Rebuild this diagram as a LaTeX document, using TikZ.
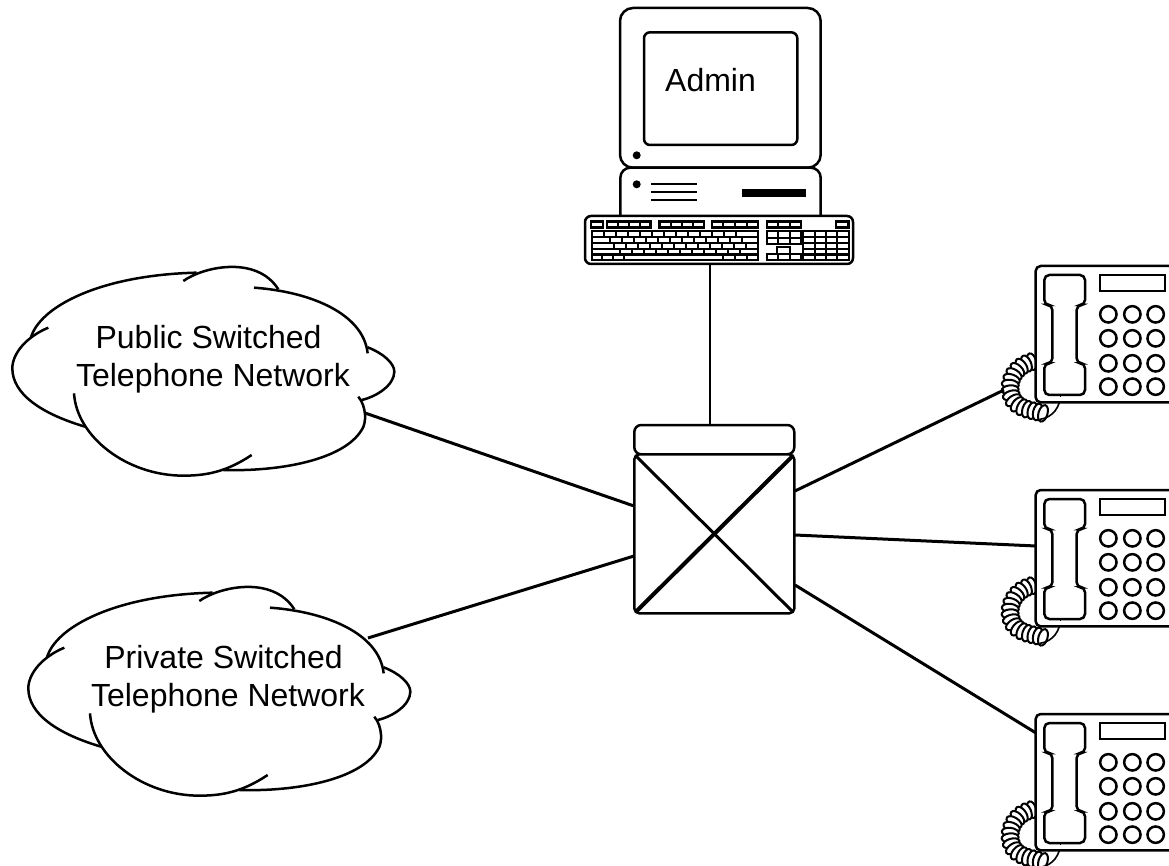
\documentclass[tikz,border=0pt]{standalone}
\usepackage{fontspec}
\setmainfont{Liberation Sans}
\usetikzlibrary{decorations.markings}
\newcommand\keyrow[4]{\foreach \kb [remember=\kb as \ka (initially #3)] in {#4} {\draw[keyst] (\ka,#1) rectangle (\kb,#2);}}
\tikzset{
  x=1pt,y=-1pt,
  line join=round,
  thin line/.style={draw=black,line width=2.5pt},
  link/.style={draw=black,line width=3pt},
  keyst/.style={draw=black,fill=white,line width=2.1pt},
  label text/.style={font=\fontsize{32}{38.3}\selectfont,align=center,inner sep=0pt},
  box/.style={draw=black,fill=white,line width=2.5pt,inner sep=0pt,outer sep=0pt},
  cloudshape/.pic={
    \begin{scope}[x=0.33333pt,y=-0.33333pt]
      \draw[thin line] (255,530) .. controls (120,490) and (37,430) .. (37,355) .. controls (37,310) and (80,260) .. (145,233);
      \draw[thin line] (93,262) .. controls (120,170) and (300,75) .. (590,68);
      \draw[thin line] (550,93) .. controls (610,50) and (770,15) .. (835,118);
      \draw[thin line] (762,113) .. controls (930,125) and (1090,190) .. (1103,310);
      \draw[thin line] (1103,292) .. controls (1150,310) and (1183,340) .. (1183,365) .. controls (1183,405) and (1130,440) .. (1085,450);
      \draw[thin line] (1075,440) .. controls (1100,470) and (1100,520) .. (1085,540) .. controls (1030,630) and (840,665) .. (670,660);
      \draw[thin line] (755,615) .. controls (680,665) and (620,677) .. (550,677) .. controls (380,677) and (230,560) .. (222,430);
    \end{scope}
  },
  phoneshape/.pic={
    \begin{scope}[x=0.33333pt,y=-0.33333pt]
      \path[decorate,decoration={markings,mark=between positions 0 and 1 step 0.065 with {\draw[fill=white,line width=2pt] (0,0) ellipse (4.5pt and 8.5pt);}}]
        (125,305) .. controls (70,320) and (50,370) .. (65,410) .. controls (80,450) and (130,450) .. (165,462);
      \draw[draw=black,line width=1.6pt] (212,405) .. controls (210,440) and (190,472) .. (150,478);
      \draw[thin line,fill=white,rounded corners=5pt] (537,18) -- (137,18) -- (137,427) -- (537,427);
      \draw[thin line,rounded corners=5pt] (163,45) -- (285,45) -- (285,135) -- (260,135) -- (260,310) -- (285,310) -- (285,405) -- (163,405) -- (163,310) -- (187,310) -- (187,135) -- (163,135) -- cycle;
      \draw[thin line] (330,45) rectangle (525,93);
      \foreach \ky in {163,235,310,380} \foreach \kx in {355,427,497} \draw[thin line] (\kx,\ky) circle (8.2pt);
      \draw[draw=black,line width=1.6pt] (212,405) -- (212,410);
    \end{scope}
  }
}
\begin{document}
\begin{tikzpicture}
\useasboundingbox[fill=white] (0,0) rectangle (1169,866);

% computer
\node[box,rounded corners=13pt,minimum width=200.7pt,minimum height=159.7pt] (monitor) at (720.35,87.85) {};
\node[box,rounded corners=6pt,minimum width=153.3pt,minimum height=112.7pt] (screen) at (720.65,88.65) {};
\node[label text] (admin) at (710.5,80) {Admin};
\fill (636.7,155.3) circle (4pt);
\draw[thin line,fill=white,rounded corners=10pt] (620.35,218) -- (620.35,167.7) -- (820.7,167.7) -- (820.7,218);
\fill (636.7,184.3) circle (4pt);
\foreach \ly in {184,192,200} \draw[thin line] (651,\ly) -- (696.7,\ly);
\fill (742,188.7) rectangle (806,197);

% keyboard
\node[box,rounded corners=6pt,minimum width=268pt,minimum height=48pt] (kbd) at (719,240) {};
\draw[keyst] (591.3,221.5) rectangle (602.7,227.5);
\keyrow{221.5}{227.5}{607}{618,629,640,650.5}
\keyrow{221.5}{227.5}{659.5}{671,682,693,704}
\keyrow{221.5}{227.5}{712}{723,735,747,758}
\keyrow{221.5}{227.5}{766.7}{778,790,800.7}
\draw[keyst] (836,221.5) rectangle (848.5,227.5);
\keyrow{231.3}{237}{592}{604,616,...,736,758}
\keyrow{237}{242.8}{592}{610,622,...,742,758}
\keyrow{242.8}{248.6}{592}{614,626,...,746,758}
\keyrow{248.6}{254.5}{592}{620,632,...,740,758}
\keyrow{254.5}{260.3}{592}{602,613,624,723,735,747,758}
\keyrow{231.3}{237.8}{766.7}{778,790,800.7}
\keyrow{237.8}{244.3}{766.7}{778,790,800.7}
\draw[keyst] (777,247) rectangle (790,254);
\keyrow{254}{260.3}{766.7}{778,790,800.7}
\foreach \ry/\rz in {231.3/237,237/242.8,242.8/248.6,248.6/254.5,254.5/260.3} {\keyrow{\ry}{\rz}{803.3}{814.7,826,837.4,848.7}}

% switch
\node[box,rounded corners=7pt,minimum width=160pt,minimum height=29.3pt] (swtop) at (714.3,439.65) {};
\node[box,rounded corners=5pt,minimum width=160pt,minimum height=159pt] (swbody) at (714.3,533.85) {};
\draw[draw=black,line width=3pt,shorten >=2pt,shorten <=2pt] (swbody.north west) -- (swbody.south east);
\draw[draw=black,line width=4pt,shorten >=2pt,shorten <=2pt] (swbody.south west) -- (swbody.north east);

% clouds
\pic (cloudA) at (0,250) {cloudshape};
\pic (cloudB) at (16,570) {cloudshape};
\node[label text] (cloudAtext) at (213,359) {Public Switched\hspace*{8.9pt}\\Telephone Network};
\node[label text] (cloudBtext) at (228,679) {Private Switched\hspace*{8.9pt}\\Telephone Network};

% phones
\pic (phoneA) at (990,260) {phoneshape};
\pic (phoneB) at (990,484) {phoneshape};
\pic (phoneC) at (990,708) {phoneshape};

% ports
\coordinate (pKbd) at (710,264);
\coordinate (pCloudA) at (365,413);
\coordinate (pCloudB) at (368,638);
\coordinate (pSwA) at (634,506);
\coordinate (pSwB) at (634,556);
\coordinate (pSwC) at (795,491);
\coordinate (pSwD) at (795,535);
\coordinate (pSwE) at (795,585);
\coordinate (pPhoneA) at (1004,390);
\coordinate (pPhoneB) at (1036,546);
\coordinate (pPhoneC) at (1036,733);

% connectors
\draw[thin line] (pKbd) -- (pKbd |- swtop.north);
\draw[link] (pCloudA) -- (pSwA);
\draw[link] (pCloudB) -- (pSwB);
\draw[link] (pSwC) -- (pPhoneA);
\draw[link] (pSwD) -- (pPhoneB);
\draw[link] (pSwE) -- (pPhoneC);
\end{tikzpicture}
\end{document}
